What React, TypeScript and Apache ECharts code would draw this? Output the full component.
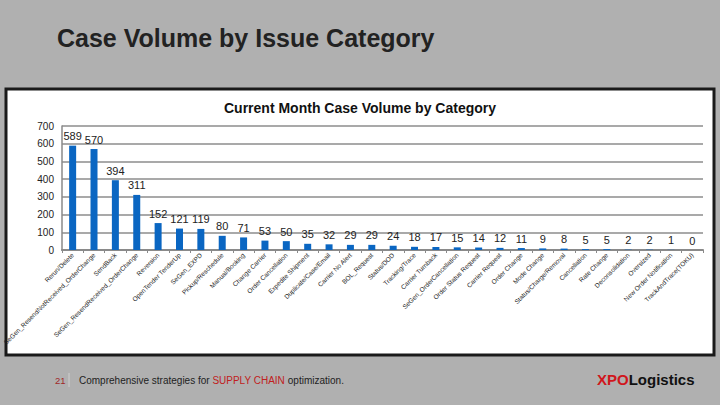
import React, { useEffect, useRef } from "react";
import * as echarts from "echarts";

const categories: string[] = [
  "Rerun/Delete",
  "SeGen_ResendNotReceived_OrderChange",
  "SendBack",
  "SeGen_ResendReceived_OrderChange",
  "Reversion",
  "OpenTender TenderUp",
  "SeGen_EXPD",
  "Pickup/Reschedule",
  "Manual/Booking",
  "Change Carrier",
  "Order Cancellation",
  "Expedite Shipment",
  "Duplicate/Case/Email",
  "Carrier No Alert",
  "BOL_Request",
  "Status/DOD",
  "Tracking/Trace",
  "Carrier Turnback",
  "SeGen_OrderCancellation",
  "Order Status Request",
  "Carrier Request",
  "Order Change",
  "Mode Change",
  "Status/Charge/Removal",
  "Cancellation",
  "Rate Change",
  "Deconsolidation",
  "Oversized",
  "New Order Notification",
  "TrackAndTrace(TOKU)",
];

const caseVolumes: number[] = [
  589, 570, 394, 311, 152, 121, 119, 80, 71, 53, 50, 35, 32, 29, 29, 24, 18,
  17, 15, 14, 12, 11, 9, 8, 5, 5, 2, 2, 1, 0,
];

const yTicks = { min: 0, max: 700, interval: 100 };

const pageTitle = "Case Volume by Issue Category";
const chartTitle = "Current Month Case Volume by Category";
const pageNumber = "21";

export default function App() {
  const ref = useRef<HTMLDivElement>(null);

  useEffect(() => {
    document.body.style.margin = "0";
    if (!ref.current) return;
    const chart = echarts.init(ref.current, undefined, { renderer: "svg" });
    const font = "Liberation Sans, Arial, sans-serif";
    chart.setOption({
      animation: false,
      backgroundColor: "#b0b0b0",
      textStyle: { fontFamily: font },
      title: [
        {
          text: chartTitle,
          left: "center",
          top: 96,
          textStyle: { fontSize: 14, fontWeight: "bold", color: "#111", fontFamily: font },
        },
      ],
      graphic: [
        {
          type: "rect",
          z: -10,
          shape: { x: 6, y: 89, width: 708, height: 266 },
          style: { fill: "#ffffff", stroke: "#1a1a1a", lineWidth: 3 },
        },
        {
          type: "text",
          x: 57,
          y: 38,
          style: {
            text: pageTitle,
            font: `bold 25px ${font}`,
            fill: "#222222",
            textVerticalAlign: "middle",
          },
        },
        {
          type: "text",
          x: 55,
          y: 380,
          style: {
            text: pageNumber,
            font: `9.5px ${font}`,
            fill: "#a02828",
            textVerticalAlign: "middle",
          },
        },
        {
          type: "line",
          shape: { x1: 69, y1: 373, x2: 69, y2: 387 },
          style: { stroke: "#cfcfcf", lineWidth: 1 },
        },
        {
          type: "text",
          x: 79,
          y: 380,
          style: {
            text: "{a|Comprehensive strategies for }{b|SUPPLY CHAIN}{a| optimization.}",
            textVerticalAlign: "middle",
            rich: {
              a: { fontSize: 10, fontFamily: font, fill: "#222" } as any,
              b: { fontSize: 10, fontFamily: font, fill: "#c02020" } as any,
            },
          } as any,
        },
        {
          type: "text",
          x: 597,
          y: 379,
          style: {
            text: "{x|XPO}{l|Logistics}",
            textVerticalAlign: "middle",
            rich: {
              x: { fontSize: 15, fontWeight: "bold", fontFamily: font, fill: "#d0161c" } as any,
              l: { fontSize: 15, fontWeight: "bold", fontFamily: font, fill: "#111" } as any,
            },
          } as any,
        },
      ],
      grid: { left: 61, right: 17, top: 126, bottom: 155, containLabel: false },
      xAxis: {
        type: "category",
        data: categories,
        axisLine: { show: true, lineStyle: { color: "#8a8a8a", width: 2 } },
        axisTick: { show: true, length: 3, lineStyle: { color: "#8a8a8a" } },
        axisLabel: {
          interval: 0,
          rotate: 45,
          fontSize: 6.5,
          color: "#222",
          margin: 4,
          fontFamily: font,
        },
      },
      yAxis: {
        type: "value",
        min: yTicks.min,
        max: yTicks.max,
        interval: yTicks.interval,
        axisLine: { show: true, lineStyle: { color: "#8a8a8a", width: 1.5 } },
        axisTick: { show: false },
        axisLabel: { fontSize: 10, color: "#222", margin: 8, fontFamily: font },
        splitLine: { show: true, lineStyle: { color: "#8c8c8c", width: 1.5 } },
      },
      series: [
        {
          type: "bar",
          data: caseVolumes,
          barWidth: 7,
          itemStyle: { color: "#0a66c2" },
          label: {
            show: true,
            position: "top",
            distance: 4,
            fontSize: 11,
            color: "#222",
            fontFamily: font,
          },
        },
      ],
    });
    return () => chart.dispose();
  }, []);

  return (
    <div
      ref={ref}
      style={{ width: 720, height: 405, position: "absolute", left: 0, top: 0 }}
    />
  );
}
